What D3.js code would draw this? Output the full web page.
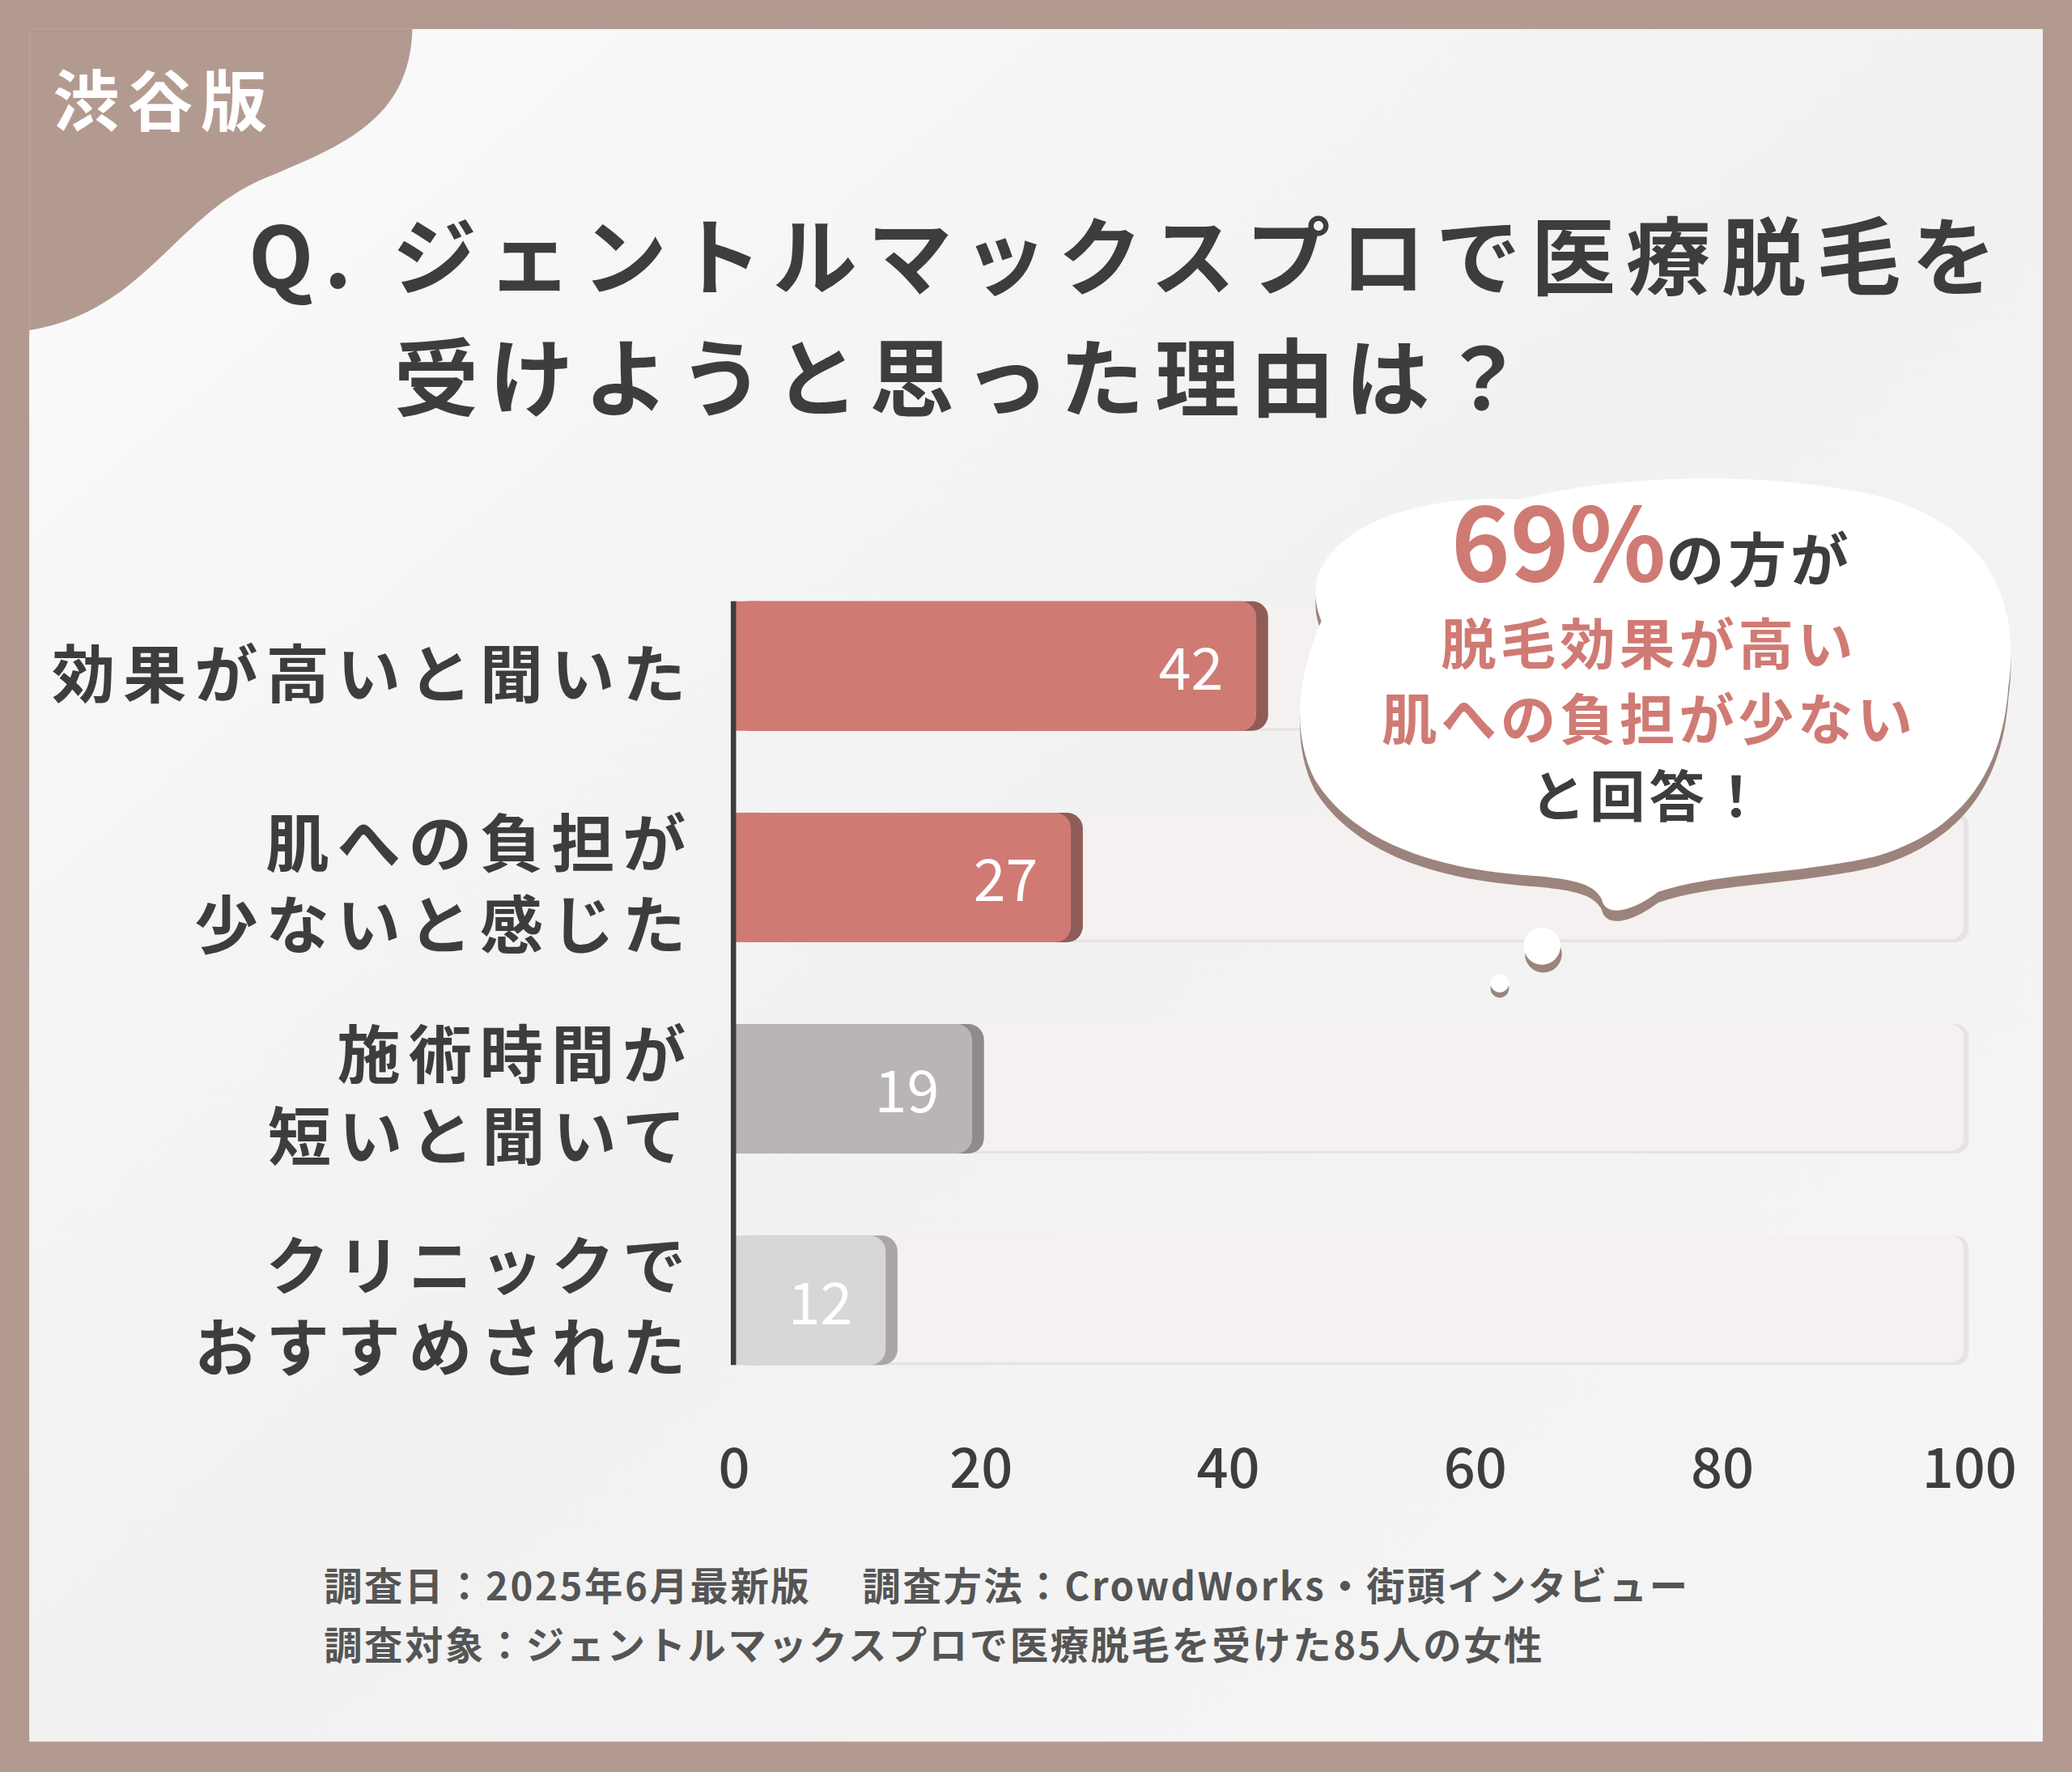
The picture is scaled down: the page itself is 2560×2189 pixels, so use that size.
<!DOCTYPE html>
<html><head><meta charset="utf-8">
<script src="https://cdn.jsdelivr.net/npm/d3@7"></script>
<style>body{margin:0;background:#b39a90}svg{display:block}</style>
</head><body>
<script>
const categories=[["効果が高いと聞いた"],["肌への負担が","少ないと感じた"],["施術時間が","短いと聞いて"],["クリニックで","おすすめされた"]];
const values=[42,27,19,12];
const ticks=[0,20,40,60,80,100];
const barColors=["#d07a74","#d07a74","#b8b5b4","#d9d7d6"];
const shadeColors=["#8f5c57","#8f5c57","#8e8b8a","#a9a6a5"];
const F="'Noto Sans CJK JP','Noto Sans',sans-serif";
const svg=d3.select("body").append("svg").attr("width",2560).attr("height",2189).attr("viewBox","0 0 1568 1341");
svg.append("rect").attr("width",1568).attr("height",1341).attr("fill","#b39a90");
const defs=svg.append("defs");
const lg=defs.append("linearGradient").attr("id","bg").attr("x1",0).attr("y1",0).attr("x2",1).attr("y2",1);
lg.append("stop").attr("offset",0).attr("stop-color","#fbfbfb");
lg.append("stop").attr("offset",0.5).attr("stop-color","#f1f1f1");
lg.append("stop").attr("offset",1).attr("stop-color","#f6f6f6");
svg.append("rect").attr("x",22).attr("y",22).attr("width",1524).attr("height",1296).attr("fill","url(#bg)");
svg.append("path").attr("d","M22,22 L312,22 C310,90 260,110 200,135 C130,165 110,235 22,250 Z").attr("fill","#b39a90");
svg.append("text").attr("x",40).attr("y",95).attr("font-family",F).attr("font-weight",700).attr("font-size",50).attr("fill","#fff").attr("letter-spacing",6).text("渋谷版");
const t=svg.append("g").attr("font-family",F).attr("font-weight",700).attr("fill","#3d3d3d").attr("font-size",64).attr("letter-spacing",8);
t.append("text").attr("x",188).attr("y",218).text("Q. ジェントルマックスプロで医療脱毛を");
t.append("text").attr("x",298).attr("y",310).text("受けようと思った理由は？");
const x=d3.scaleLinear().domain([0,100]).range([555,1490]);
const y2=d3.scalePoint().domain(d3.range(values.length)).range([504,984]);
const bh=98;
const g=svg.append("g");
values.forEach((v,i)=>{
  const yc=y2(i);
  g.append("rect").attr("x",x(0)).attr("y",yc-bh/2).attr("width",x(100)-x(0)).attr("height",bh).attr("rx",10).attr("fill","#e6e3e2");
  g.append("rect").attr("x",x(0)).attr("y",yc-bh/2).attr("width",x(100)-x(0)-4).attr("height",bh-2).attr("rx",10).attr("fill","#f4f1f0");
  g.append("rect").attr("x",x(0)).attr("y",yc-bh/2).attr("width",x(v)-x(0)+12).attr("height",bh).attr("rx",12).attr("fill",shadeColors[i]);
  g.append("rect").attr("x",x(0)).attr("y",yc-bh/2).attr("width",x(v)-x(0)+3).attr("height",bh).attr("rx",12).attr("fill",barColors[i]);
  g.append("rect").attr("x",x(0)).attr("y",yc-bh/2).attr("width",20).attr("height",bh).attr("fill",barColors[i]);
  g.append("text").attr("x",x(v)-22).attr("y",yc+18).attr("text-anchor","end").attr("font-family",F).attr("font-size",44).attr("fill","#fff").text(v);
  const lines=categories[i];
  lines.forEach((l,j)=>{
    const yy=lines.length==1?yc+24:yc-8+j*62;
    g.append("text").attr("x",525).attr("y",yy).attr("text-anchor","end").attr("font-family",F).attr("font-weight",700).attr("font-size",48).attr("letter-spacing",6).attr("fill","#3d3d3d").text(l);
  });
});
svg.append("line").attr("x1",x(0)).attr("x2",x(0)).attr("y1",455).attr("y2",1033).attr("stroke","#3d3d3d").attr("stroke-width",4);
const ax=svg.append("g").attr("transform","translate(0,1093)").call(d3.axisBottom(x).tickValues(ticks).tickSize(0));
ax.select(".domain").remove();
ax.selectAll("text").attr("font-family",F).attr("font-size",42).attr("fill","#3d3d3d").attr("font-weight",500);
const cloud="M1000,470 C975,410 1060,372 1150,378 C1220,360 1330,355 1420,375 C1500,395 1530,450 1520,520 C1515,590 1480,630 1420,648 C1360,662 1300,660 1255,675 C1235,690 1215,695 1212,680 C1205,668 1190,665 1150,662 C1070,655 1020,630 995,590 C975,550 985,505 1000,470 Z";
svg.append("path").attr("d",cloud).attr("transform","translate(0,8)").attr("fill","#9c847c");
svg.append("path").attr("d",cloud).attr("fill","#fff");
svg.append("circle").attr("cx",1168).attr("cy",722).attr("r",14).attr("fill","#9c847c");
svg.append("circle").attr("cx",1167).attr("cy",716).attr("r",14).attr("fill","#fff");
svg.append("circle").attr("cx",1135).attr("cy",748).attr("r",7).attr("fill","#9c847c");
svg.append("circle").attr("cx",1135).attr("cy",744).attr("r",7).attr("fill","#fff");
const b=svg.append("g").attr("font-family",F).attr("font-weight",700).attr("text-anchor","middle");
const t1=b.append("text").attr("x",1250).attr("y",440);
t1.append("tspan").attr("fill","#d07a74").attr("font-size",76).text("69%");
t1.append("tspan").attr("fill","#3d3d3d").attr("font-size",44).attr("letter-spacing",3).text("の方が");
b.append("text").attr("x",1248).attr("y",503).attr("fill","#d07a74").attr("font-size",42).attr("letter-spacing",3).text("脱毛効果が高い");
b.append("text").attr("x",1248).attr("y",560).attr("fill","#d07a74").attr("font-size",42).attr("letter-spacing",3).text("肌への負担が少ない");
b.append("text").attr("x",1248).attr("y",618).attr("fill","#3d3d3d").attr("font-size",42).attr("letter-spacing",3).text("と回答！");
const f=svg.append("g").attr("font-family",F).attr("font-weight",700).attr("font-size",29).attr("fill","#555").attr("letter-spacing",1.6);
f.append("text").attr("x",245).attr("y",1211).attr("xml:space","preserve").text("調査日：2025年6月最新版　 調査方法：CrowdWorks・街頭インタビュー");
f.append("text").attr("x",245).attr("y",1256).text("調査対象：ジェントルマックスプロで医療脱毛を受けた85人の女性");
</script>
</body></html>
